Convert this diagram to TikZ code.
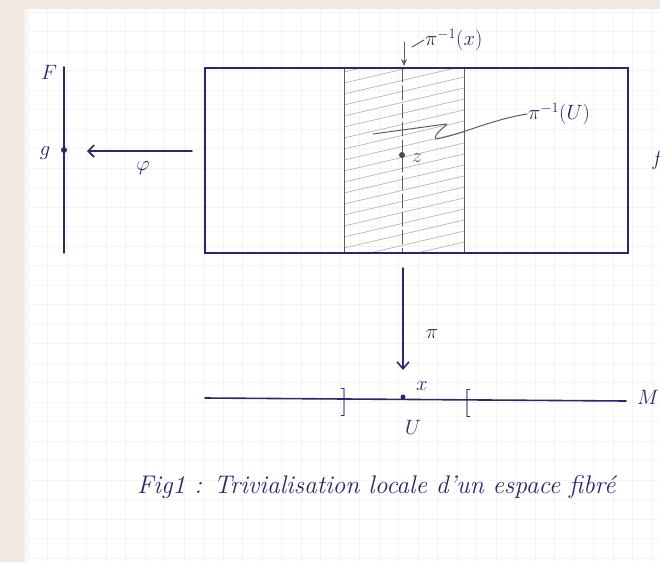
\documentclass[tikz,border=0pt]{standalone}
\usetikzlibrary{arrows.meta}
\definecolor{ink}{RGB}{42,40,105}
\definecolor{pencil}{RGB}{95,92,95}
\definecolor{hatch}{RGB}{175,173,175}
\definecolor{gridc}{RGB}{243,244,248}
\definecolor{edge}{RGB}{242,233,226}
\tikzset{
  inkline/.style={draw=ink, line width=1.6pt, line cap=round},
  pencilline/.style={draw=pencil, line width=1pt, line cap=round},
  lbl/.style={text=ink, inner sep=1pt, font=\fontsize{20}{22}\selectfont},
  brk/.style={text=ink, inner sep=0pt, font=\fontsize{28}{30}\selectfont},
  dotn/.style={circle, fill=ink, inner sep=0pt, minimum size=6pt},
  pdot/.style={circle, fill=pencil!80!black, inner sep=0pt, minimum size=6pt},
}
\begin{document}
\begin{tikzpicture}[x=1pt,y=-1pt]
\useasboundingbox (0,0) rectangle (660,562);
% paper
\fill[edge] (0,0) rectangle (660,562);
\fill[white] (22,9) rectangle (660,562);
\begin{scope}
\clip (22,9) rectangle (660,562);
\foreach \gx in {28,47.5,...,660} \draw[gridc, line width=0.6pt] (\gx,9) -- (\gx,562);
\foreach \gy in {12,31.5,...,562} \draw[gridc, line width=0.6pt] (22,\gy) -- (660,\gy);
\end{scope}
\fill[left color=edge, right color=white] (22,9) rectangle (28,562);

% hatched strip
\begin{scope}
\clip (344,68) rectangle (464,253);
\foreach \hy in {72,83,...,300} \draw[hatch, line width=0.6pt] (344,\hy) -- (464,\hy-28);
\end{scope}
\draw[pencilline] (344,68) -- (344,253);
\draw[pencilline] (464,68) -- (464,253);
\draw[pencilline, dash pattern=on 14pt off 4pt] (402,68) -- (402,253);

% total space rectangle
\draw[inkline] (205,68) rectangle (628,253);

% point z
\node[pdot] (z) at (402,155) {};
\node[lbl, text=pencil] (zl) at (417,158) {$z$};

% pi^{-1}(x)
\coordinate (px1) at (404,42);
\coordinate (px2) at (404,66);
\draw[-{Stealth[length=7pt,width=6pt]}, pencilline] (px1) -- (px2);
\coordinate (lx1) at (412,47);
\node[lbl, anchor=west] (pix) at (424,40) {$\pi^{-1}(x)$};
\draw[pencilline] (lx1) -- (pix.west);

% pi^{-1}(U) with squiggle leader
\node[lbl, anchor=west] (piU) at (527,114) {$\pi^{-1}(U)$};
\coordinate (s0) at (373,134);
\draw[pencilline] (s0) -- (446,124) .. controls (450,124) and (432,134) .. (436,139)
  .. controls (460,135) and (490,120) .. (piU.west);

% fibre F
\coordinate (Ft) at (64,67);
\coordinate (Fb) at (64,253);
\draw[inkline] (Ft) -- (Fb);
\node[lbl] (F) at (49,72) {$F$};
\node[dotn] (g) at (64,150) {};
\node[lbl] (gl) at (45,153) {$g$};

% phi arrow
\coordinate (ph1) at (192,151);
\coordinate (ph2) at (87,151);
\draw[-{Straight Barb[length=6pt,width=12pt]}, inkline] (ph1) -- (ph2);
\node[lbl] (phl) at (143,168) {$\varphi$};

% partial letter on the right edge
\node[lbl, anchor=west] (E) at (650,160) {$f$};

% projection pi
\coordinate (pt) at (403,268);
\coordinate (pb) at (403,370);
\draw[-{Straight Barb[length=7pt,width=12pt]}, inkline] (pt) -- (pb);
\node[lbl] (pil) at (432,334) {$\pi$};

% base M
\coordinate (M1) at (205,398);
\coordinate (M2) at (626,401);
\draw[inkline] (M1) -- (M2);
\node[lbl] (Ml) at (648,397) {$M$};
\node[brk] (lb) at (344,402) {]};
\node[brk] (rb) at (467,403) {[};
\node[dotn, minimum size=5pt] (x) at (403,397) {};
\node[lbl] (xl) at (422,386) {$x$};
\node[lbl] (Ul) at (413,427) {$U$};

% caption
\node[lbl, font=\fontsize{25.5}{28}\selectfont\itshape, anchor=west] (cap) at (136,487) {Fig1 : Trivialisation locale d'un espace fibré};
\end{tikzpicture}
\end{document}
